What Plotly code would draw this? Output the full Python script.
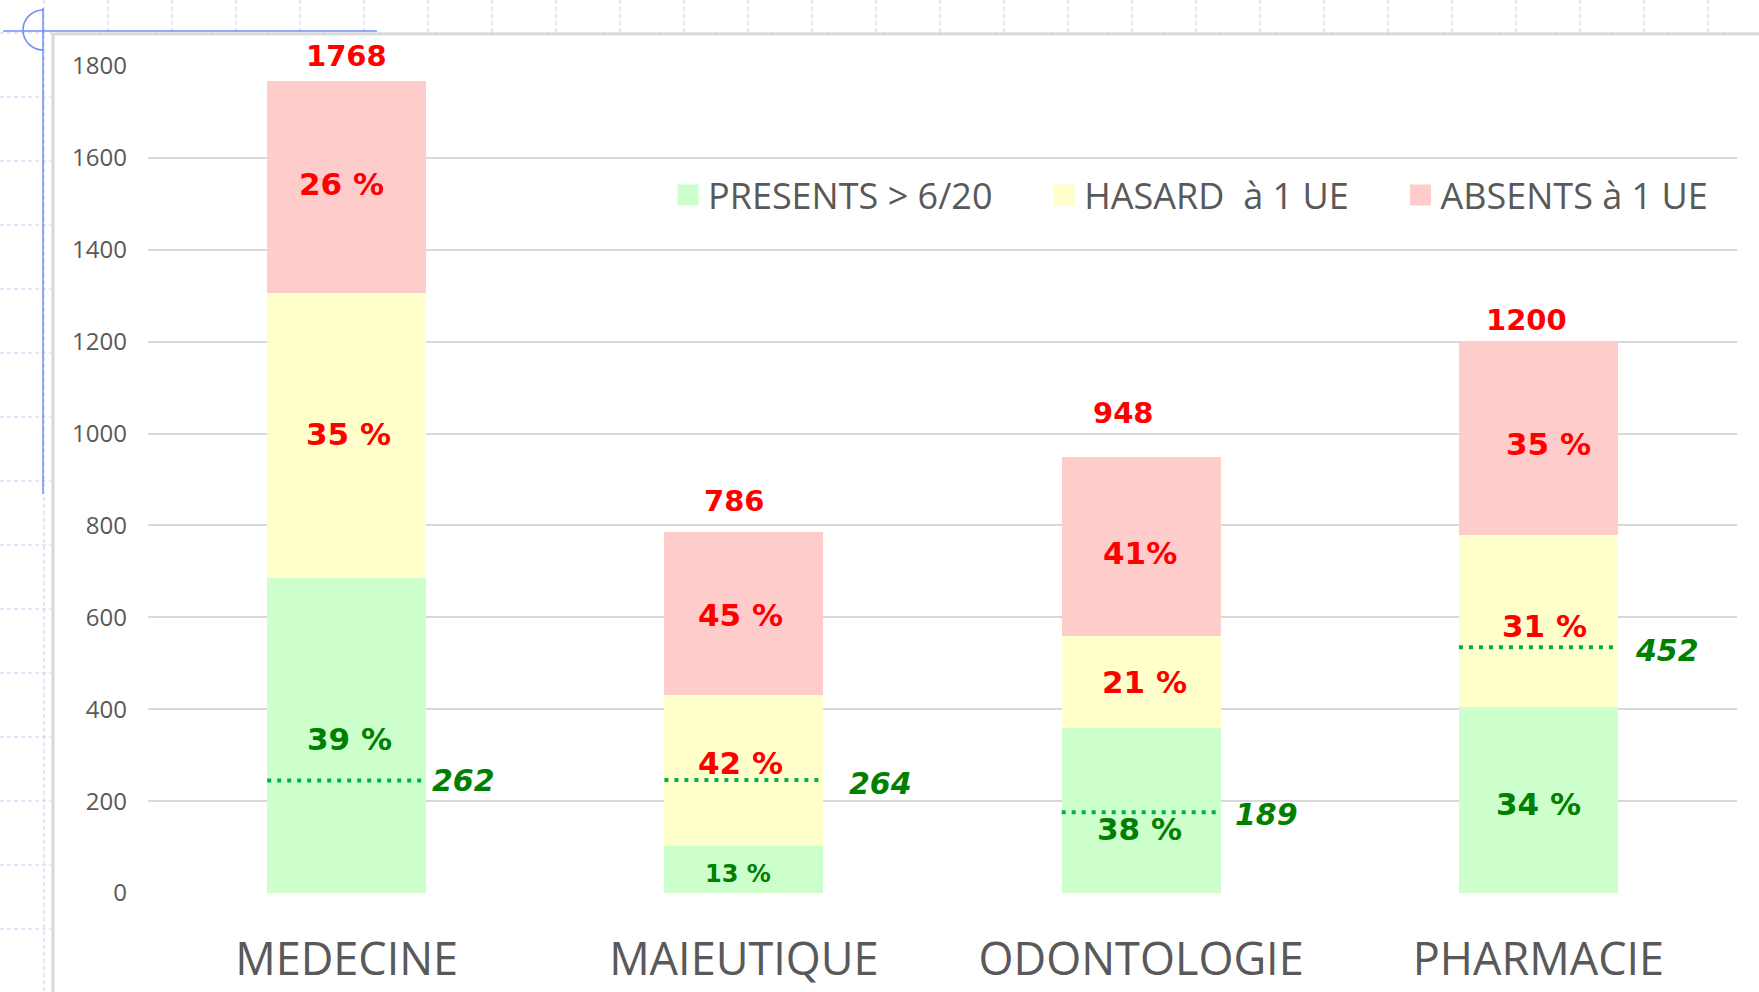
import plotly.graph_objects as go

# ---------------- data ----------------
categories = ["MEDECINE", "MAIEUTIQUE", "ODONTOLOGIE", "PHARMACIE"]
presents = [685, 102, 360, 405]      # PRESENTS > 6/20
hasard = [620, 330, 199, 375]        # HASARD à 1 UE
absents = [463, 354, 389, 420]       # ABSENTS à 1 UE
totals = [1768, 786, 948, 1200]
pct_presents = ["39 %", "13 %", "38 %", "34 %"]
pct_hasard = ["35 %", "42 %", "21 %", "31 %"]
pct_absents = ["26 %", "45 %", "41%", "35 %"]
threshold_levels = [245, 246, 176, 535]
threshold_labels = ["262", "264", "189", "452"]
series_names = ["PRESENTS > 6/20", "HASARD\u00a0 à 1 UE", "ABSENTS à 1 UE"]
yticks = [0, 200, 400, 600, 800, 1000, 1200, 1400, 1600, 1800]

# ---------------- style ----------------
W, H = 1759, 992
L, R, T, B = 148, 22, 66, 99
BAR_W = 0.40
colors = ["#ccffcc", "#ffffcc", "#ffcccc"]
RED = "#ff0000"
DKGREEN = "#008000"
LINEGREEN = "#00b050"
GREY = "#595959"
LEGEND_PAD = "\u00a0" * 5  # visual spacing between legend entries

# label pixel offsets (xshift, yshift)
total_shift = [(0, 25), (-9, 31), (-18, 44), (-12, 22)]
pct_shift = {
    0: [(3, -3), (-6, -4), (-2, -19), (0, -4)],
    1: [(2, 2), (-3, 7), (3, 0), (6, -5)],
    2: [(-5, 3), (-3, -2), (-1, -6), (10, -6)],
}
thr_shift = [(4, 0), (24, -4), (12, -2), (15, -3)]

xs = list(range(len(categories)))
fig = go.Figure()
for vals, name, col in zip([presents, hasard, absents], series_names, colors):
    fig.add_trace(go.Bar(x=xs, y=vals, name=name, marker=dict(color=col, line=dict(width=0)),
                         width=BAR_W, showlegend=False, hoverinfo="skip"))
# legend entries with large square swatches
for k, (name, col) in enumerate(zip(series_names, colors)):
    fig.add_trace(go.Scatter(x=[None], y=[None], mode="markers",
                             name=name + (LEGEND_PAD if k < len(series_names) - 1 else ""),
                             marker=dict(symbol="square", size=16, color=col,
                                         line=dict(color=col, width=5))))

# threshold dotted lines
for i, lvl in enumerate(threshold_levels):
    fig.add_trace(go.Scatter(x=[i - BAR_W / 2, i + BAR_W / 2], y=[lvl, lvl], mode="lines",
                             line=dict(color=LINEGREEN, width=4, dash="4px,6px"),
                             showlegend=False, hoverinfo="skip"))

ann = []
# totals
for i, t in enumerate(totals):
    ann.append(dict(x=i, y=t, text=str(t), showarrow=False, xanchor="center", yanchor="middle",
                    xshift=total_shift[i][0], yshift=total_shift[i][1],
                    font=dict(family="DejaVu Sans", size=29, color=RED, weight="bold")))
# percentages
stacks = [presents, hasard, absents]
pcts = [pct_presents, pct_hasard, pct_absents]
for s in range(3):
    for i in xs:
        base = sum(stacks[k][i] for k in range(s))
        mid = base + stacks[s][i] / 2
        col = DKGREEN if s == 0 else RED
        size = 24 if (s == 0 and i == 1) else 31
        ann.append(dict(x=i, y=mid, text=pcts[s][i], showarrow=False, xanchor="center", yanchor="middle",
                        xshift=pct_shift[s][i][0], yshift=pct_shift[s][i][1],
                        font=dict(family="DejaVu Sans", size=size, color=col, weight="bold")))
# threshold labels
for i, (lvl, lab) in enumerate(zip(threshold_levels, threshold_labels)):
    ann.append(dict(x=i + BAR_W / 2, y=lvl, text=lab, showarrow=False, xanchor="left", yanchor="middle",
                    xshift=thr_shift[i][0], yshift=thr_shift[i][1],
                    font=dict(family="DejaVu Sans", size=30, color=DKGREEN, weight="bold", style="italic")))

# ---------------- background decoration (slide guides) ----------------
PW, PH = W - L - R, H - T - B
def PX(px):
    return (px - L) / PW
def PY(py):
    return (H - B - py) / PH

shapes = []
DASH_BLUE = "#c3cff5"
for x in range(44, W, 64):
    y_end = 992 if x == 44 else 33
    shapes.append(dict(type="line", xref="paper", yref="paper", x0=PX(x), x1=PX(x), y0=PY(0), y1=PY(y_end),
                       line=dict(color=DASH_BLUE, width=1, dash="4px,3px"), layer="below"))
for y in range(33, H, 64):
    x_end = W if y == 33 else 53
    shapes.append(dict(type="line", xref="paper", yref="paper", x0=PX(0), x1=PX(x_end), y0=PY(y), y1=PY(y),
                       line=dict(color=DASH_BLUE, width=1, dash="4px,3px"), layer="below"))
# chart area border
shapes.append(dict(type="line", xref="paper", yref="paper", x0=PX(53), x1=PX(53), y0=PY(33), y1=PY(H),
                   line=dict(color="#d9d9d9", width=3)))
shapes.append(dict(type="line", xref="paper", yref="paper", x0=PX(53), x1=PX(W), y0=PY(34), y1=PY(34),
                   line=dict(color="#d9d9d9", width=3)))
# blue guides
GUIDE = "#6f8df7"
shapes.append(dict(type="line", xref="paper", yref="paper", x0=PX(43), x1=PX(43), y0=PY(8), y1=PY(494),
                   line=dict(color=GUIDE, width=1.5)))
shapes.append(dict(type="line", xref="paper", yref="paper", x0=PX(3), x1=PX(377), y0=PY(31), y1=PY(31),
                   line=dict(color=GUIDE, width=1.5)))
pts = [(43, 10), (32, 10), (23, 19), (23, 30), (23, 41), (32, 50), (43, 50)]
p = [(PX(a), PY(b)) for a, b in pts]
path = "M {0[0]},{0[1]} C {1[0]},{1[1]} {2[0]},{2[1]} {3[0]},{3[1]} C {4[0]},{4[1]} {5[0]},{5[1]} {6[0]},{6[1]}".format(*p)
shapes.append(dict(type="path", xref="paper", yref="paper", path=path, line=dict(color=GUIDE, width=1.5)))

fig.update_layout(
    width=W, height=H, autosize=False,
    margin=dict(l=L, r=R, t=T, b=B, pad=0, autoexpand=False),
    paper_bgcolor="white", plot_bgcolor="white",
    barmode="stack",
    showlegend=True,
    legend=dict(orientation="h", x=PX(668), y=PY(195), xanchor="left", yanchor="middle",
                traceorder="normal",
                font=dict(family="Open Sans", size=36, color=GREY), bgcolor="rgba(0,0,0,0)",
                itemsizing="trace"),
    xaxis=dict(range=[-0.5, 3.5], tickvals=xs, ticktext=categories, showgrid=False, zeroline=False,
               showline=False, ticks="", ticklabelstandoff=36, automargin=False,
               tickfont=dict(family="Open Sans", size=45, color=GREY)),
    yaxis=dict(range=[0, 1800], tickvals=yticks, showgrid=True, gridcolor="#d9d9d9", gridwidth=2,
               zeroline=False, showline=False, ticks="", ticklabelstandoff=20, automargin=False,
               tickfont=dict(family="Open Sans", size=24, color=GREY)),
    annotations=ann,
    shapes=shapes,
)

fig.write_html("out.html", config={"displayModeBar": False},
               post_script="document.body.style.margin='0';document.body.style.overflow='hidden';")
